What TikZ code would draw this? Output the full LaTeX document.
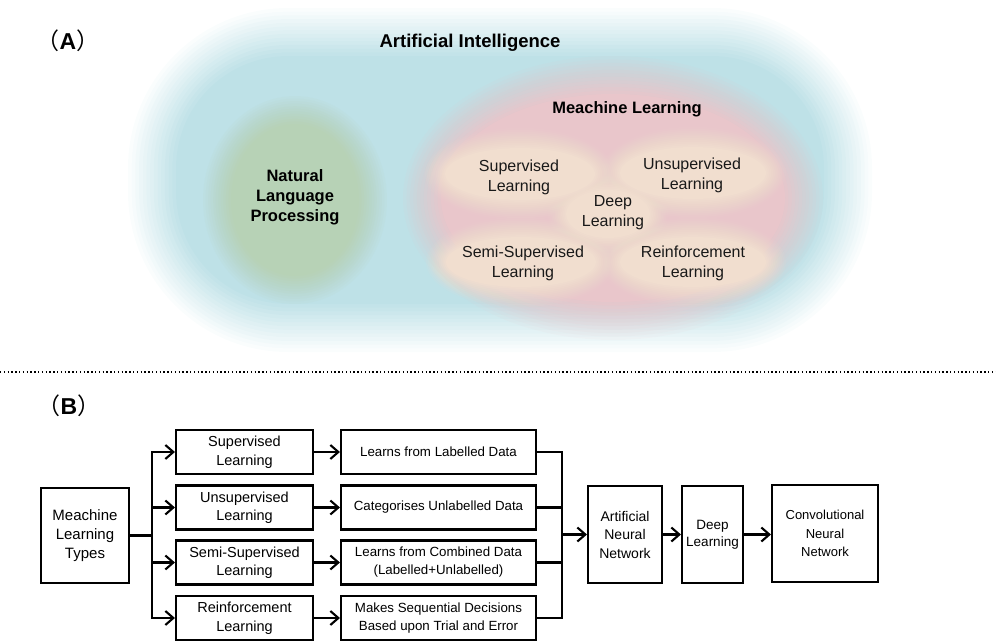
\documentclass[tikz,border=0pt]{standalone}
\usepackage{fontspec}
\setmainfont{Liberation Sans}
\newfontfamily\cjkfont{Noto Sans CJK SC}
\usetikzlibrary{arrows.meta}
\definecolor{aiblue}{RGB}{190,225,231}
\definecolor{nlpgreen}{RGB}{183,210,182}
\definecolor{mlpink}{RGB}{233,198,203}
\definecolor{peach}{RGB}{241,222,207}
\newcommand\softell[6]{% color, cx, cy, rx, ry, fade
  \foreach \k in {1,...,12}{%
    \pgfmathsetmacro\op{1/(13-\k)}%
    \pgfmathsetmacro\dd{#6*(\k-1)/11}%
    \fill[#1, fill opacity=\op] (#2,#3) ellipse [x radius={#4-\dd}, y radius={#5-\dd}];
  }}
\newcommand\softrect[7]{% color, x1, y1, x2, y2, radius, fade
  \foreach \k in {1,...,14}{%
    \pgfmathsetmacro\op{1/(15-\k)}%
    \pgfmathsetmacro\dd{#7*(\k-1)/13}%
    \pgfmathsetmacro\rr{#6-\dd}%
    \fill[#1, fill opacity=\op, rounded corners=\rr pt] ({#2+\dd},{#3+\dd}) rectangle ({#4-\dd},{#5-\dd});
  }}
\tikzset{
  atext/.style={align=center, inner sep=0pt, text=black!90, font=\fontsize{16}{20}\selectfont},
  btext/.style={align=center, inner sep=0pt, font=\bfseries\fontsize{16.5}{20}\selectfont},
  box/.style={draw, line width=2.1pt, align=center, inner sep=0pt},
  colone/.style={box, minimum width=137pt, minimum height=44pt, font=\fontsize{14.5}{18.5}\selectfont},
  coltwo/.style={box, minimum width=195pt, minimum height=44pt, font=\fontsize{13.3}{18}\selectfont},
  bigbox/.style={box, minimum height=97pt},
  arr/.style={line width=2.1pt, -{Straight Barb[length=8pt,width=14pt]}},
  conn/.style={line width=2.1pt},
  panel/.style={inner sep=0pt, font=\fontsize{23}{25}\selectfont}
}
\begin{document}
\begin{tikzpicture}[x=1pt, y=-1pt]
\useasboundingbox (0,0) rectangle (996,643);
% ---------- Panel A ----------
\softrect{aiblue}{128}{8}{872}{352}{160}{48}
\softell{nlpgreen}{295}{200}{92}{104}{28}
\softell{mlpink}{613}{198}{210}{142}{38}
\softell{peach}{520}{174}{95}{46}{20}
\softell{peach}{693}{173}{93}{46}{20}
\softell{peach}{521}{262}{95}{45}{20}
\softell{peach}{693}{262}{93}{45}{20}
\softell{peach}{608}{214}{60}{42}{18}

\node[panel] (pa) at (68,41) {{\cjkfont （}{\bfseries A}{\cjkfont ）}};
\node[inner sep=0pt, font=\bfseries\fontsize{18.5}{22}\selectfont] (ai) at (470,43) {Artificial Intelligence};
\node[btext] (nlp) at (295,197) {Natural\\Language\\Processing};
\node[btext] (ml) at (627,109) {Meachine Learning};
\node[atext] (sl) at (519,177) {Supervised\\Learning};
\node[atext] (ul) at (692,175) {Unsupervised\\Learning};
\node[atext] (dl) at (613,213) {Deep\\Learning};
\node[atext] (ssl) at (523,263) {Semi-Supervised\\Learning};
\node[atext] (rl) at (693,263) {Reinforcement\\Learning};

% ---------- separator ----------
\coordinate (sepl) at (0,372);
\coordinate (sepr) at (996,372);
\draw[line width=1.6pt, dash pattern=on 1.4pt off 2.4pt] (sepl) -- (sepr);

% ---------- Panel B ----------
\node[panel] (pb) at (69,406) {{\cjkfont （}{\bfseries B}{\cjkfont ）}};

\node[box, minimum width=88pt, minimum height=95pt, font=\fontsize{15}{19}\selectfont] (mlt) at (85,535.5) {Meachine\\Learning\\Types};

\node[colone] (s1) at (244.5,452) {Supervised\\Learning};
\node[colone] (s2) at (244.5,507.5) {Unsupervised\\Learning};
\node[colone] (s3) at (244.5,562.5) {Semi-Supervised\\Learning};
\node[colone] (s4) at (244.5,618) {Reinforcement\\Learning};

\node[coltwo] (c1) at (438.5,452) {Learns from Labelled Data};
\node[coltwo] (c2) at (438.5,507.5) {Categorises Unlabelled Data};
\node[coltwo] (c3) at (438.5,562.5) {Learns from Combined Data\\(Labelled+Unlabelled)};
\node[coltwo] (c4) at (438.5,618) {Makes Sequential Decisions\\Based upon Trial and Error};

\node[bigbox, minimum width=74pt, font=\fontsize{14}{18.5}\selectfont] (ann) at (625,534.5) {Artificial\\Neural\\Network};
\node[bigbox, minimum width=61pt, font=\fontsize{13.5}{17.5}\selectfont] (deep) at (712.5,534.5) {Deep\\Learning};
\node[bigbox, minimum width=106pt, font=\fontsize{13}{18.5}\selectfont] (cnn) at (825,533.5) {Convolutional\\Neural\\Network};

% branch
\coordinate (bx) at (152,535.5);
\draw[conn] (mlt.east) -- (bx);
\draw[conn, line cap=rect] (bx |- s1) -- (bx |- s4);
\foreach \n in {s1,s2,s3,s4}{\draw[arr] (bx |- \n) -- (\n.west);}
\foreach \a/\b in {s1/c1,s2/c2,s3/c3,s4/c4}{\draw[arr] (\a.east) -- (\b.west);}
% merge
\coordinate (mx) at (562,534.5);
\foreach \n in {c1,c2,c3,c4}{\draw[conn] (\n.east) -- (mx |- \n);}
\draw[conn, line cap=rect] (mx |- c1) -- (mx |- c4);
\draw[arr] (mx |- ann) -- (ann.west);
\draw[arr] (ann.east) -- (deep.west);
\draw[arr] (deep.east) -- (deep.east -| cnn.west);
\end{tikzpicture}
\end{document}
